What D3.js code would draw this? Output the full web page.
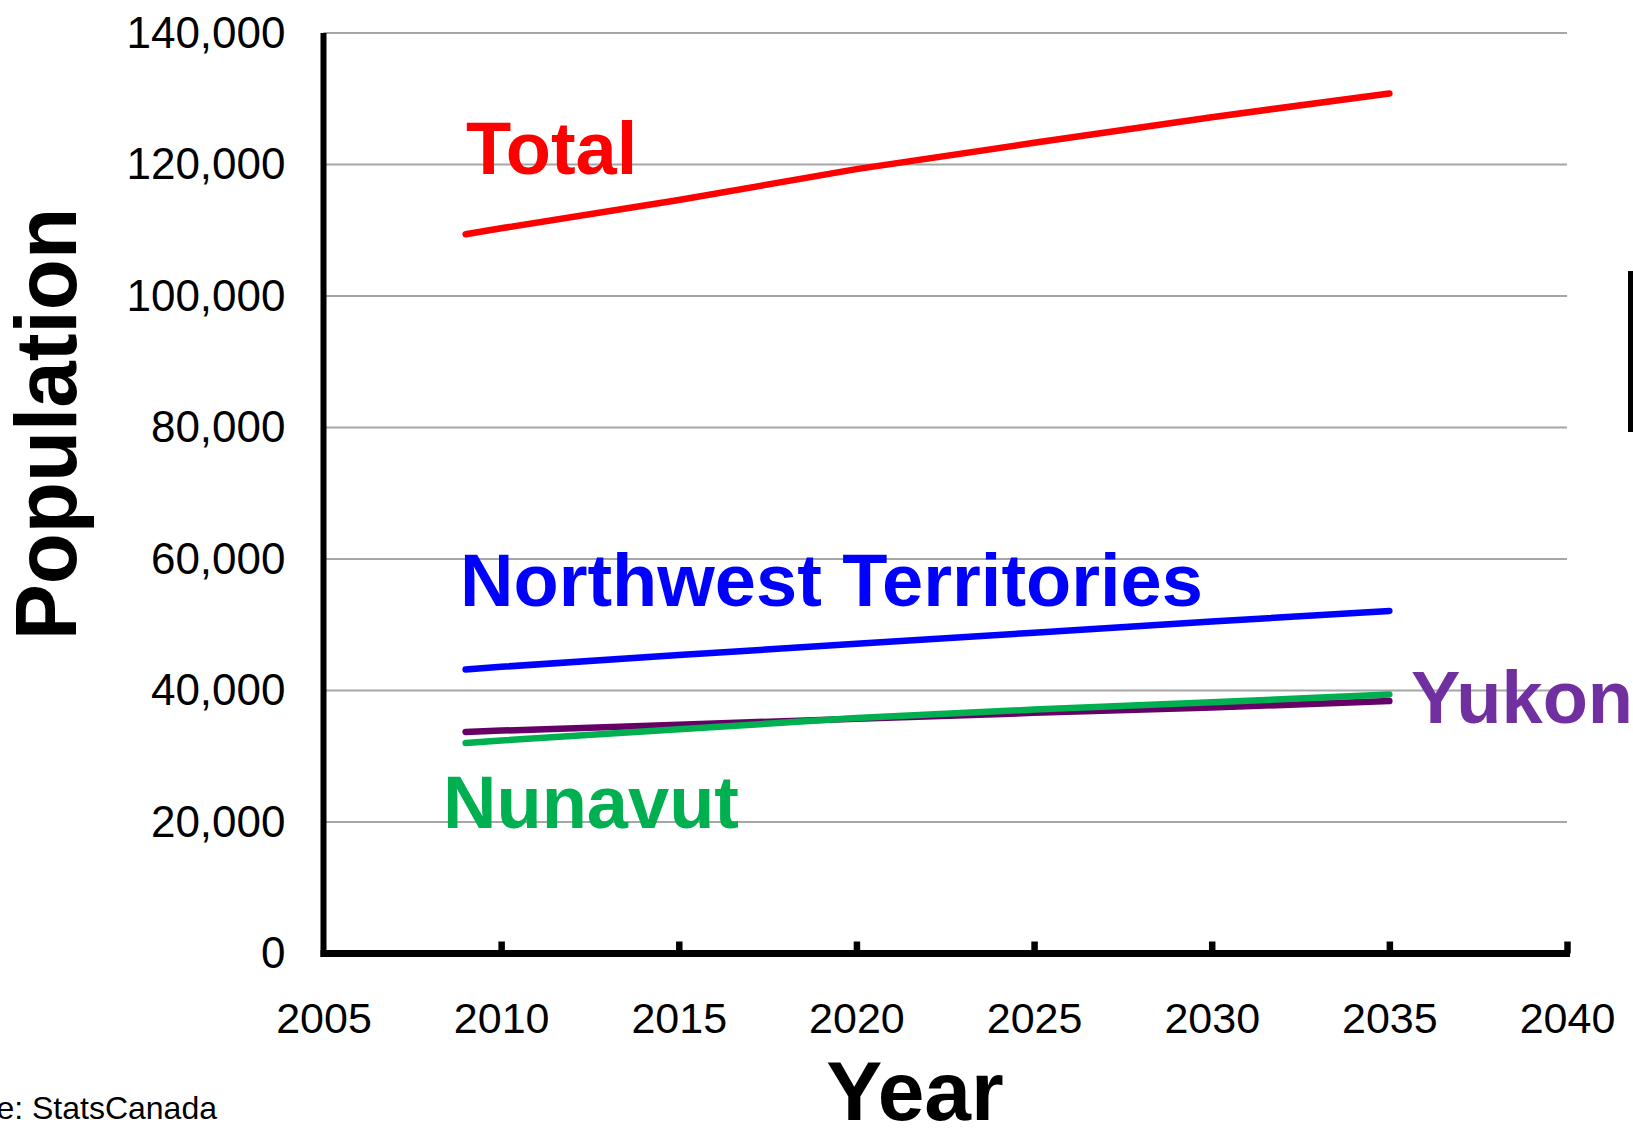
<!DOCTYPE html>
<html>
<head>
<meta charset="utf-8">
<script src="https://cdn.jsdelivr.net/npm/d3@7"></script>
<style>
  body { margin: 0; background: #fff; }
  svg { display: block; font-family: "Liberation Sans", Arial, sans-serif; }
</style>
</head>
<body>
<div id="graph"></div>
<script>
// projected population, northern territories (StatsCanada)
var years    = [2009, 2010, 2015, 2020, 2025, 2030, 2035];
var total    = [109400, 110300, 114600, 119300, 123300, 127200, 130800];
var nwt      = [43200, 43600, 45400, 47100, 48800, 50500, 52100];
var yukon    = [33700, 33900, 34800, 35700, 36600, 37400, 38400];
var nunavut  = [32000, 32400, 34100, 35800, 37100, 38200, 39400];

var xTicks = [2005, 2010, 2015, 2020, 2025, 2030, 2035, 2040];
var yTicks = [0, 20000, 40000, 60000, 80000, 100000, 120000, 140000];

var svgWidth = 1633;
var svgHeight = 1131;

// plot box (window.top is reserved, so no plain "top")
var plotLeft = 323.5, plotRight = 1567, plotTop = 33, plotBottom = 953.5;

var svg = d3.select("#graph")
      .append("svg")
      .attr("width", svgWidth)
      .attr("height", svgHeight);

var x = d3.scaleLinear().domain([2005, 2040]).range([plotLeft, plotRight]);
var y = d3.scaleLinear().domain([0, 140000]).range([plotBottom, plotTop]);

// gridlines
svg.append("g")
  .selectAll("line")
  .data(yTicks.filter(function(d){ return d > 0; }))
  .enter().append("line")
  .attr("x1", plotLeft)
  .attr("x2", plotRight)
  .attr("y1", function(d){ return y(d); })
  .attr("y2", function(d){ return y(d); })
  .style("stroke", "#a6a6a6")
  .style("stroke-width", 2);

// y axis labels (no tick marks)
var yAxis = svg.append("g")
  .attr("transform", "translate(" + plotLeft + ",0)")
  .call(d3.axisLeft(y).tickValues(yTicks).tickFormat(d3.format(",")).tickSize(0).tickPadding(38));
yAxis.select(".domain").remove();
yAxis.selectAll("text")
  .style("font-size", "44px")
  .style("fill", "#000");

// x axis, ticks pointing up into the plot
var xAxis = svg.append("g")
  .attr("transform", "translate(0," + plotBottom + ")")
  .call(d3.axisBottom(x).tickValues(xTicks).tickFormat(d3.format("d")).tickSizeInner(-12).tickSizeOuter(0));
xAxis.select(".domain").remove();
xAxis.selectAll(".tick line")
  .style("stroke", "#000")
  .style("stroke-width", 6.5)
  .attr("opacity", function(d){ return d == 2005 ? 0 : 1; });
xAxis.selectAll("text")
  .attr("y", 79.5)
  .attr("dy", 0)
  .style("font-size", "43px")
  .style("fill", "#000");

// axis lines
svg.append("line")
  .attr("x1", plotLeft).attr("x2", plotLeft)
  .attr("y1", plotTop).attr("y2", plotBottom + 3.5)
  .style("stroke", "#000").style("stroke-width", 6);
svg.append("line")
  .attr("x1", plotLeft - 3).attr("x2", plotRight + 3)
  .attr("y1", plotBottom).attr("y2", plotBottom)
  .style("stroke", "#000").style("stroke-width", 7);

// series lines, yukon before nunavut so green sits on top
var series = [
  { name: "Total", values: total, color: "#ff0000" },
  { name: "Northwest Territories", values: nwt, color: "#0000ff" },
  { name: "Yukon", values: yukon, color: "#660066" },
  { name: "Nunavut", values: nunavut, color: "#00b050" }
];

var line = d3.line()
  .x(function(d, i){ return x(years[i]); })
  .y(function(d){ return y(d); });

svg.append("g")
  .selectAll("path")
  .data(series)
  .enter().append("path")
  .attr("d", function(s){ return line(s.values); })
  .style("fill", "none")
  .style("stroke", function(s){ return s.color; })
  .style("stroke-width", 6.5)
  .style("stroke-linecap", "round")
  .style("stroke-linejoin", "round");

// series labels
var labels = [
  { text: "Total", x: 466, y: 174, color: "#ff0000" },
  { text: "Northwest Territories", x: 460, y: 606, color: "#0000ff" },
  { text: "Nunavut", x: 443, y: 828, color: "#00b050" },
  { text: "Yukon", x: 1411, y: 723, color: "#7030a0" }
];

svg.append("g")
  .selectAll("text")
  .data(labels)
  .enter().append("text")
  .attr("x", function(d){ return d.x; })
  .attr("y", function(d){ return d.y; })
  .text(function(d){ return d.text; })
  .style("font-size", "74px")
  .style("font-weight", "bold")
  .style("fill", function(d){ return d.color; });

// axis titles
svg.append("text")
  .attr("transform", "translate(76,424) rotate(-90)")
  .attr("text-anchor", "middle")
  .attr("textLength", 432)
  .attr("lengthAdjust", "spacingAndGlyphs")
  .style("font-size", "88px")
  .style("font-weight", "bold")
  .text("Population");

svg.append("text")
  .attr("x", 915)
  .attr("y", 1120)
  .attr("text-anchor", "middle")
  .style("font-size", "84px")
  .style("font-weight", "bold")
  .text("Year");

// source note, cut off at the left edge
svg.append("text")
  .attr("x", 217)
  .attr("y", 1119)
  .attr("text-anchor", "end")
  .style("font-size", "32px")
  .text("Source: StatsCanada");

// edge of a box cut off at the right
svg.append("rect")
  .attr("x", 1628)
  .attr("y", 271)
  .attr("width", 10)
  .attr("height", 161)
  .style("fill", "#000");
</script>
</body>
</html>
